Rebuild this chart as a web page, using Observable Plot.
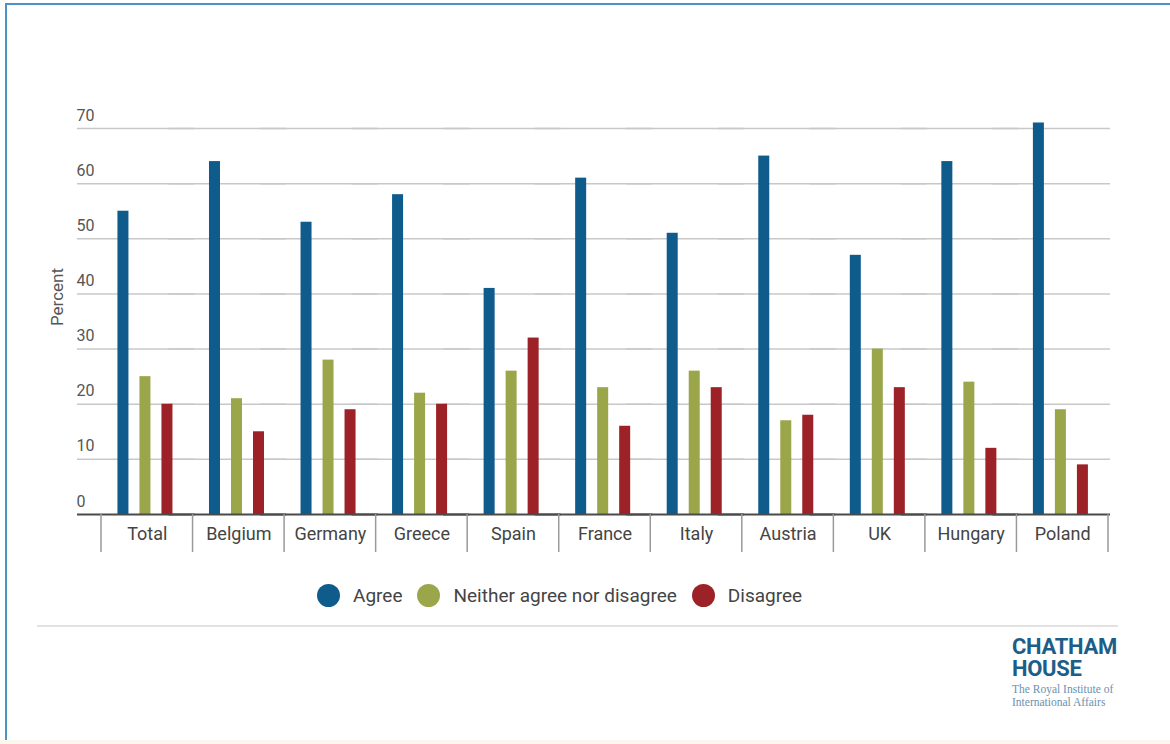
<!DOCTYPE html>
<html><head><meta charset="utf-8">
<script src="https://cdn.jsdelivr.net/npm/d3@7"></script>
<script src="https://cdn.jsdelivr.net/npm/@observablehq/plot@0.6"></script>
<style>
body{margin:0;background:#fff;font-family:Roboto,sans-serif;}
#page{position:relative;width:1170px;height:744px;overflow:hidden;background:#fff;}
#topborder{position:absolute;left:5px;top:3px;width:1165px;height:2px;background:#4d92c4;}
#leftborder{position:absolute;left:5px;top:3px;width:2px;height:737px;background:#4d92c4;}
#bottomstrip{position:absolute;left:0;top:740px;width:1170px;height:4px;background:#fcf7ec;}
#chart{position:absolute;left:0;top:0;}
#ylabel{position:absolute;left:57px;top:297px;transform:translate(-50%,-50%) rotate(-90deg);font-size:17px;color:#555;white-space:nowrap;}
#legend{position:absolute;left:317px;top:584px;display:flex;align-items:center;font-size:19px;color:#444;}
#legend .item{display:flex;align-items:center;margin-right:15px;}
#legend .dot{width:23px;height:23px;border-radius:50%;margin-right:13px;}
#rule{position:absolute;left:37px;top:625px;width:1081px;height:2px;background:#e2e2e2;}
#logo{position:absolute;left:1012px;top:636px;color:#1d5e89;}
#logo .big{font-family:Roboto,sans-serif;font-weight:700;font-size:22px;line-height:22px;width:108px;letter-spacing:-0.3px;}
#logo .small{font-family:"Liberation Serif",serif;font-size:11.5px;line-height:13px;width:112px;color:#6b91b0;margin-top:3px;}
</style></head><body>
<div id="page">
  <div id="chart"></div>
  <div id="ylabel">Percent</div>
  <div id="legend"></div>
  <div id="rule"></div>
  <div id="logo"><div class="big">CHATHAM HOUSE</div><div class="small">The Royal Institute of International Affairs</div></div>
  <div id="topborder"></div><div id="leftborder"></div><div id="bottomstrip"></div>
</div>
<script>
const countries = ["Total","Belgium","Germany","Greece","Spain","France","Italy","Austria","UK","Hungary","Poland"];
const series = ["Agree","Neither agree nor disagree","Disagree"];
const agree = [55,64,53,58,41,61,51,65,47,64,71];
const neither = [25,21,28,22,26,23,26,17,30,24,19];
const disagree = [20,15,19,20,32,16,23,18,23,12,9];
const colors = ["#0f5b8c","#9ba64b","#9c2227"];
const yTicks = [0,10,20,30,40,50,60,70];

const values = [agree, neither, disagree];
const data = countries.flatMap((c, i) => series.map((s, j) => ({country: c, series: s, value: values[j][i]})));

const plot = Plot.plot({
  width: 1170, height: 560,
  marginLeft: 101, marginRight: 62, marginTop: 128, marginBottom: 46,
  style: {fontFamily: "Roboto, sans-serif", background: "transparent", color: "#444"},
  fx: {domain: countries, padding: 0, round: false, label: null},
  x: {domain: series, paddingInner: 0.5, paddingOuter: 0.83, align: 0.45, round: false, axis: null},
  y: {domain: [0, 70], label: null},
  color: {domain: series, range: colors},
  marks: [
    Plot.ruleY(yTicks.filter(d => d > 0), {stroke: "#c8c8c8", strokeWidth: 1.5, insetLeft: -24, insetRight: -2}),
    Plot.axisY(yTicks, {tickSize: 0, tickPadding: 25, textAnchor: "start", dy: -13, fill: "#555", fontSize: 16, label: null}),
    Plot.barY(data, {fx: "country", x: "series", y: "value", fill: "series"}),
    Plot.ruleY([0], {stroke: "#4a4a4a", strokeWidth: 2, insetLeft: -24, insetRight: -2}),
    Plot.axisFx({anchor: "bottom", tickSize: 0, tickPadding: 13, fontSize: 18, fill: "#444", label: null})
  ]
});

// category separators below the baseline, at the fx band edges
const fx = plot.scale("fx");
const y = plot.scale("y");
const edges = countries.map(c => fx.apply(c)).concat([fx.apply(countries[countries.length - 1]) + fx.bandwidth]);
d3.select(plot).append("g")
  .selectAll("line").data(edges).join("line")
  .attr("x1", d => d).attr("x2", d => d)
  .attr("y1", y.apply(0)).attr("y2", y.apply(0) + 38)
  .attr("stroke", "#9a9a9a").attr("stroke-width", 1.5);

document.getElementById("chart").appendChild(plot);

const legend = d3.select("#legend");
series.forEach((s, i) => {
  const it = legend.append("div").attr("class", "item");
  it.append("div").attr("class", "dot").style("background", colors[i]);
  it.append("span").text(s);
});
</script>
</body></html>
